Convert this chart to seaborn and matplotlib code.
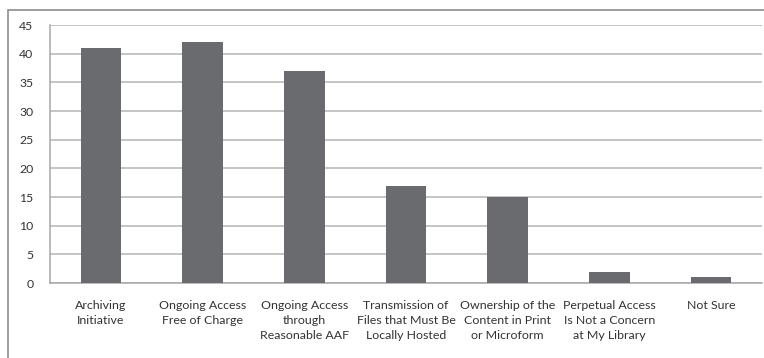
import matplotlib
matplotlib.use("Agg")
import matplotlib.pyplot as plt
from matplotlib.patches import Rectangle
import seaborn as sns
import pandas as pd

categories = [
    "Archiving\nInitiative",
    "Ongoing Access\nFree of Charge",
    "Ongoing Access\nthrough\nReasonable AAF",
    "Transmission of\nFiles that Must Be\nLocally Hosted",
    "Ownership of the\nContent in Print\nor Microform",
    "Perpetual Access\nIs Not a Concern\nat My Library",
    "Not Sure",
]
counts = [41, 42, 37, 17, 15, 2, 1]
y_ticks = [0, 5, 10, 15, 20, 25, 30, 35, 40, 45]

sns.set_theme(style="white")
plt.rcParams["font.family"] = ["Lato", "DejaVu Sans"]

W, H = 764, 358
fig = plt.figure(figsize=(W / 100, H / 100), dpi=100)
ax = fig.add_axes([50 / W, 1 - 283 / H, (762 - 50) / W, (283 - 25) / H])

df = pd.DataFrame({"category": categories, "count": counts})
sns.barplot(data=df, x="category", y="count", ax=ax, color="#6a6b6f",
            width=0.4, saturation=1, edgecolor="none", zorder=3)

ax.set_ylim(0, 45)
ax.set_yticks(y_ticks)
ax.set_yticklabels([str(v) for v in y_ticks], fontsize=8.8, color="#333333")
ax.tick_params(axis="y", length=0, pad=12)
ax.tick_params(axis="x", length=0, pad=12, labelsize=8.9, labelcolor="#333333")
for lbl in ax.get_xticklabels():
    lbl.set_linespacing(1.45)
ax.set_xlabel("")
ax.set_ylabel("")
ax.yaxis.grid(True, color="#b4b4b4", linewidth=1.1, zorder=0)
ax.set_axisbelow(True)

for side in ["top", "right"]:
    ax.spines[side].set_visible(False)
ax.spines["left"].set_color("#a8a8a8")
ax.spines["left"].set_linewidth(1.1)
ax.spines["bottom"].set_color("#a8a8a8")
ax.spines["bottom"].set_linewidth(1.1)

# outer chart frame
fig.patches.append(Rectangle((8 / W, -0.1), 1.2, 1 - 10 / H + 0.1,
                             transform=fig.transFigure, fill=False,
                             edgecolor="#8c8c8c", linewidth=1.2))

fig.savefig("out.png", dpi=100)
